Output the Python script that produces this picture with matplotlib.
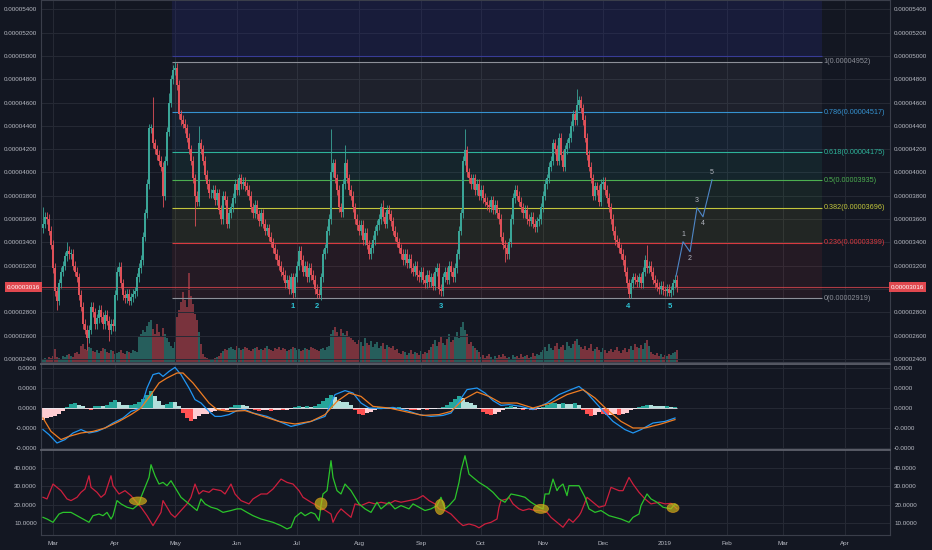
import numpy as np
import pandas as pd
import matplotlib
matplotlib.use("Agg")
import matplotlib.pyplot as plt
import matplotlib.dates as mdates
import matplotlib.transforms as mtransforms
from matplotlib.patches import Ellipse
from matplotlib.ticker import FuncFormatter

plt.rcParams['font.family'] = ['Liberation Sans', 'DejaVu Sans']

START = pd.Timestamp("2018-02-24")

# ---- price data, satoshi (1e-8), one value per day from START ----
first_open = 3520
closes = [
    3560, 3620, 3600, 3500, 3380,                    # Feb
    3180, 2980, 2900, 3050, 3150, 3200, 3280, 3330, 3300, 3300,
    3200, 3150, 3100, 2950, 2850, 2700, 2650, 2580, 2650,
    2850, 2800, 2700, 2750, 2820, 2760, 2700, 2780, 2730, 2650, 2700, 2680,
    2950, 3150, 3190,                                # Apr
    3050, 2950, 2920, 2960, 2900, 2930, 2960, 2980,
    3100, 3180, 3250, 3450, 3650, 3900, 4380,
    4380, 4250, 4200, 4150, 4100, 4050, 3800, 4100, 4350, 4600,
    4800, 4880, 4900,                                # May
    4750, 4500, 4450, 4420, 4380, 4300,
    4200, 4100, 3950, 3800, 3750, 4250,
    4200, 4100, 3980, 3900, 3820,
    3820, 3850, 3760, 3820, 3680, 3600, 3800, 3760, 3560, 3650,
    3700, 3780, 3900, 3850, 3950, 3900, 3920, 3880,  # Jun
    3850, 3800, 3700, 3650, 3720, 3640,
    3580, 3650, 3560, 3500, 3520,
    3450, 3400, 3350, 3300, 3250, 3200, 3150, 3120,
    3050, 3080, 3000, 3100, 2970,
    3100, 3200, 3330, 3250, 3150, 3200, 3100, 3180, 3120, 3080,  # Jul
    3000, 2960, 2950,
    3100, 3300, 3350, 3500, 3600,
    4000, 4080, 3950, 3850, 3700, 3660, 3900, 4080,
    3950, 3850, 3800, 3700, 3600, 3550,
    3500, 3550, 3420, 3480, 3380, 3300,              # Aug
    3350, 3420, 3500, 3550, 3600,
    3700, 3620, 3560, 3680, 3640,
    3580, 3500, 3450, 3400,
    3350, 3300, 3250, 3300, 3220, 3260, 3180, 3150, 3200, 3120,
    3100, 3150, 3080, 3050, 3120, 3060, 3100, 3030, 3150, 3180, 3000, 2980,  # Sep
    3100, 3150, 3080, 3200, 3150, 3100, 3180,
    3300, 3500, 3650, 4100, 4190, 4000,
    3950, 3900, 3950, 3850,
    3900, 3800, 3850, 3780, 3750,                    # Oct
    3720, 3700, 3760, 3680, 3720, 3650, 3600,
    3450, 3380, 3350, 3300, 3400,
    3600, 3780, 3850, 3800, 3750,
    3700, 3650, 3680, 3600, 3580, 3620, 3560, 3530, 3580, 3600,
    3700, 3800, 3900, 3950, 4050, 4100,              # Nov
    4250, 4200, 4100, 4300, 4150, 4050, 4200, 4250, 4300,
    4400, 4500, 4450, 4580, 4620, 4550, 4450,
    4300, 4150, 4050,
    3950, 3800, 3880, 3850, 3750, 3900, 3920, 3850, 3780, 3700,  # Dec
    3600, 3500, 3420, 3400,
    3350, 3300, 3250, 3150, 3050, 2960,
    3050, 3100, 3080, 3060, 3100, 3050,
    3150, 3250, 3180, 3200, 3150,
    3080, 3050, 3020, 3000, 3030, 2990,
    2980, 3000, 2970, 2990, 3050, 3080, 3016,        # Jan 2019
]
wick_highs = {0: 3700, 12: 3400, 55: 4650, 63: 4680, 66: 4952, 78: 4400,
              144: 4370, 151: 4240, 170: 3760, 211: 4370, 267: 4720, 302: 3380}
wick_lows = {7: 2820, 22: 2480, 33: 2550, 60: 3700, 76: 3540, 125: 2920,
             138: 2919, 199: 2940, 231: 3230, 293: 2925, 313: 2940}
volume = [
    3, 4, 3, 5, 4, 6, 13, 5, 4, 3, 6, 5, 7, 8, 6, 5, 9, 10, 8,
    16, 18, 13, 12, 15, 14, 11,
    10, 12, 9, 11, 14, 13, 10, 9, 12, 11, 8, 9, 10, 12, 9, 8, 11, 10, 9, 12, 11, 10,
    25, 28, 32, 30, 36, 40, 42, 33, 28, 38, 30, 26, 34, 28, 24, 20,
    16, 14, 20,
    45, 52, 60, 70, 62, 55, 89, 66, 58, 48, 42,
    30, 18, 8, 5, 4, 3, 2, 3, 4, 5, 6,
    9, 11, 13, 12, 14, 15, 13, 12, 16, 14, 12, 13, 15, 14, 12, 11, 13, 14, 15, 12,
    13, 12, 14, 16, 13, 12, 11, 14, 13, 15, 12, 14, 13, 11, 12, 13, 15, 14, 12, 13,
    11, 12, 14, 13, 12, 15, 14, 13, 12, 11, 13, 14, 12, 15, 16,
    28, 32, 35, 30, 26, 33, 29, 27, 31, 25, 24, 22, 20,
    18, 22, 20, 16, 24, 19, 17, 21, 15, 18, 20, 14, 16, 19, 13, 17, 15, 14, 16, 12, 13,
    9, 8, 11, 10, 7, 9, 12, 8, 10, 9, 7, 11, 8, 10, 9, 12,
    15, 18, 22, 16, 20, 25, 19, 17, 23, 28, 20, 22, 26, 30, 24, 35, 40, 32, 28,
    18, 20, 16, 14, 12, 10,
    5, 7, 4, 6, 8, 5, 3, 6, 4, 7, 5, 8, 6, 4, 5, 3, 7, 5, 6, 4, 8, 5, 6, 7, 4, 5, 9, 6, 8, 7,
    10, 12, 15, 11, 18, 14, 12, 16, 19, 13, 15, 17, 12, 20, 16, 14, 18, 21, 23, 17,
    15, 13, 16, 12, 14, 18, 11, 13, 15, 12, 10, 14, 12, 9, 11, 13, 10, 12, 15, 11,
    9, 12, 14, 10, 13, 16, 12, 18, 15, 14, 17, 13, 19, 22, 16,
    10, 8, 7, 9, 6, 8, 5, 7, 6, 8, 7, 9, 10, 12,
]
last_price = 3016

# fibonacci retracement (drawing tool anchors in days from START)
fib_ratios = ['0', '0.236', '0.382', '0.5', '0.618', '0.786', '1']
fib_prices = [2919, 3399, 3696, 3935, 4175, 4517, 4952]
fib_from_day, fib_to_day = 64.5, 389.5
upper_zone_price = 5000

wave_days = [125, 137, 199, 292.5, 313.5]
wave_names = ['1', '2', '3', '4', '5']
proj_days = [316.5, 320, 323.5, 327, 330, 334.5]
proj_prices = [3110, 3406, 3320, 3697, 3620, 3937]
proj_names = ['', '1', '2', '3', '4', '5']

# MACD (units 1e-6): (day, value)
macd_line = [(0, -1.08), (3, -1.33), (7, -1.75), (11, -1.58), (15, -1.25), (19, -1.08),
             (23, -1.25), (27, -1.17), (31, -1.0), (35, -0.75), (40, -0.5), (44, -0.17),
             (49, 0.0), (52, 1.0), (55, 1.67), (58, 1.75), (60, 1.58), (63, 1.83),
             (66, 2.03), (69, 1.67), (73, 1.0), (76, 0.42), (79, 0.25), (83, -0.17),
             (86, -0.42), (89, -0.42), (93, -0.33), (97, -0.13), (101, -0.08), (105, -0.25),
             (112, -0.42), (118, -0.67), (124, -0.92), (128, -0.83), (134, -0.67), (141, -0.42),
             (146, 0.67), (151, 0.87), (155, 0.75), (159, 0.25), (163, 0.0), (169, -0.03),
             (175, 0.03), (182, -0.13), (188, -0.33), (194, -0.42), (200, -0.37), (204, -0.25),
             (208, 0.33), (212, 0.92), (217, 1.0), (221, 0.75), (225, 0.37), (229, 0.13),
             (233, 0.17), (239, 0.08), (245, -0.08), (252, 0.25), (258, 0.67), (264, 0.92),
             (268, 1.08), (272, 0.75), (278, 0.08), (285, -0.67), (291, -1.08), (295, -1.25),
             (299, -1.08), (305, -0.75), (311, -0.67), (316, -0.5)]
signal_line = [(0, -0.5), (4, -1.17), (9, -1.58), (13, -1.42), (19, -1.25), (25, -1.17),
               (31, -1.0), (38, -0.67), (44, -0.33), (49, 0.0), (54, 0.67), (58, 1.25),
               (62, 1.5), (67, 1.75), (70, 1.75), (75, 1.25), (79, 0.75), (83, 0.25),
               (87, -0.08), (93, -0.17), (101, -0.13), (110, -0.42), (118, -0.67), (126, -0.8),
               (134, -0.67), (141, -0.33), (147, 0.33), (153, 0.75), (159, 0.58), (165, 0.08),
               (173, 0.0), (182, -0.2), (190, -0.37), (198, -0.33), (204, -0.17), (210, 0.42),
               (217, 0.8), (223, 0.58), (229, 0.25), (237, 0.25), (245, 0.0), (254, 0.25),
               (262, 0.67), (270, 0.92), (276, 0.5), (282, -0.08), (289, -0.67), (295, -1.0),
               (301, -1.0), (309, -0.8), (316, -0.58)]
# histogram, one value per 2 days
macd_hist = [
    -0.58, -0.5, -0.45, -0.42, -0.3, -0.15, 0.05, 0.2, 0.25, 0.15,
    0.08, -0.05, -0.08, 0.08, 0.12, 0.1, 0.15, 0.3, 0.42, 0.3,
    0.17, 0.15, 0.17, 0.2, 0.3, 0.45, 0.65, 0.83, 0.6, 0.35,
    0.15, 0.2, 0.3, 0.28, 0.1, -0.25, -0.5, -0.67, -0.55, -0.4,
    -0.3, -0.28, -0.2, -0.15, -0.12, -0.15, -0.1, 0.05, 0.15, 0.17,
    0.15, 0.1, -0.05, -0.1, -0.13, -0.12, -0.1, -0.13, -0.1, -0.08,
    -0.12, -0.08, -0.03, 0.03, 0.08, 0.05, 0.08, 0.05, 0.1, 0.2,
    0.35, 0.5, 0.67, 0.55, 0.35, 0.3, 0.28, 0.15, -0.1, -0.3,
    -0.33, -0.25, -0.2, -0.1, 0.03, 0.05, 0.02, -0.03, -0.05, 0.03,
    0.02, -0.05, -0.08, -0.1, -0.08, -0.06, -0.08, -0.05, -0.03, -0.02,
    0.03, 0.15, 0.3, 0.45, 0.6, 0.5, 0.3, 0.25, 0.15, -0.05,
    -0.2, -0.3, -0.33, -0.3, -0.2, -0.1, 0.03, 0.08, 0.05, -0.02,
    -0.08, -0.05, -0.08, -0.1, -0.06, 0.05, 0.15, 0.25, 0.27, 0.2,
    0.25, 0.22, 0.2, 0.25, 0.15, -0.1, -0.3, -0.42, -0.35, -0.2,
    -0.3, -0.35, -0.33, -0.3, -0.35, -0.3, -0.25, -0.1, -0.05, 0.05,
    0.12, 0.17, 0.15, 0.12, 0.1, 0.08, 0.08, 0.07, 0.07,
]

# DMI: (day, value)
plus_di = [(0, 13.2), (2, 12.3), (5, 10.5), (8, 15.0), (10, 15.9), (14, 15.9), (17, 14.1),
           (20, 12.3), (23, 10.5), (25, 14.1), (28, 15.0), (30, 14.1), (32, 15.9), (34, 12.3),
           (35, 14.1), (37, 22.3), (39, 20.5), (42, 18.7), (45, 17.8), (48, 20.5), (49, 24.1),
           (51, 29.5), (53, 34.9), (54, 41.8), (56, 35.8), (58, 31.3), (60, 32.2), (62, 30.4),
           (64, 33.1), (67, 27.7), (69, 24.1), (72, 21.4), (74, 19.6), (77, 16.9), (79, 23.2),
           (81, 20.5), (84, 18.7), (87, 17.8), (90, 15.9), (94, 16.9), (97, 17.8), (99, 17.8),
           (102, 15.9), (105, 14.1), (109, 12.3), (112, 11.4), (115, 10.5), (119, 8.7),
           (122, 6.9), (124, 7.8), (126, 13.2), (129, 15.9), (131, 14.1), (134, 15.9),
           (136, 15.0), (138, 11.4), (139, 19.6), (140, 25.9), (142, 27.7), (144, 44.0),
           (145, 34.9), (147, 27.7), (149, 25.9), (151, 31.3), (154, 27.7), (156, 24.1),
           (158, 20.5), (161, 17.8), (164, 15.9), (167, 21.4), (169, 17.8), (173, 21.4),
           (176, 17.8), (179, 19.6), (183, 17.8), (185, 20.5), (188, 18.7), (191, 16.9),
           (194, 17.8), (197, 19.6), (199, 24.1), (201, 17.8), (203, 19.6), (206, 23.2),
           (208, 32.2), (209, 38.6), (211, 46.7), (213, 36.7), (215, 34.9), (218, 32.2),
           (222, 29.5), (225, 26.8), (228, 23.2), (231, 21.4), (234, 25.9), (238, 25.0),
           (241, 24.1), (244, 21.4), (248, 18.7), (250, 17.8), (251, 25.9), (253, 25.9),
           (255, 34.0), (257, 27.7), (258, 29.5), (260, 31.3), (262, 25.0), (263, 30.4),
           (266, 30.4), (268, 30.4), (271, 24.1), (273, 17.8), (276, 15.9), (279, 16.9),
           (283, 14.1), (286, 13.2), (289, 12.3), (293, 10.5), (295, 13.2), (298, 15.0),
           (299, 19.6), (302, 25.9), (304, 23.2), (307, 21.4), (310, 18.7), (314, 17.8),
           (316, 20.5), (317, 19.6)]
minus_di = [(0, 24.1), (2, 23.2), (5, 31.3), (7, 29.5), (9, 27.7), (12, 23.2), (14, 22.3),
            (17, 24.1), (19, 26.8), (21, 28.6), (23, 35.8), (24, 29.5), (27, 26.8), (29, 24.1),
            (31, 25.9), (34, 35.8), (35, 30.4), (38, 25.9), (41, 27.7), (44, 25.0), (46, 22.3),
            (49, 18.7), (52, 14.1), (54, 10.5), (55, 8.7), (57, 12.3), (59, 15.9), (60, 22.3),
            (62, 18.7), (64, 15.0), (66, 13.2), (69, 16.9), (72, 20.5), (74, 24.1), (76, 31.3),
            (78, 25.9), (80, 27.7), (83, 26.8), (85, 28.6), (89, 27.7), (91, 25.9), (94, 31.3),
            (96, 25.9), (99, 22.3), (103, 20.5), (105, 23.2), (109, 25.9), (112, 25.9),
            (115, 28.6), (119, 34.0), (122, 32.2), (125, 31.3), (128, 27.7), (130, 24.1),
            (134, 21.4), (137, 19.6), (140, 17.8), (144, 15.0), (145, 10.5), (147, 15.0),
            (149, 17.8), (152, 15.0), (154, 13.2), (156, 20.5), (159, 19.6), (163, 21.4),
            (166, 20.5), (169, 21.4), (173, 20.5), (176, 22.3), (179, 21.4), (183, 22.3),
            (187, 23.2), (190, 25.0), (193, 22.3), (196, 20.5), (198, 17.8), (201, 16.9),
            (204, 15.0), (208, 10.5), (210, 8.7), (213, 9.6), (216, 8.7), (218, 7.5),
            (221, 9.6), (224, 10.5), (227, 12.3), (228, 18.7), (229, 22.3), (232, 23.2),
            (233, 24.1), (235, 20.5), (238, 17.8), (240, 16.9), (243, 17.8), (246, 16.9),
            (249, 16.9), (252, 15.9), (254, 13.2), (257, 10.5), (260, 7.8), (263, 12.3),
            (265, 10.5), (268, 14.1), (269, 15.9), (272, 24.1), (274, 22.3), (278, 18.7),
            (281, 19.6), (284, 29.5), (288, 27.7), (290, 27.7), (293, 34.9), (295, 31.3),
            (298, 26.8), (301, 23.2), (304, 20.5), (308, 21.4), (311, 20.5), (314, 20.8),
            (317, 17.8)]
cross_days = [47.5, 139, 198.5, 249, 315]
cross_vals = [22.1, 20.5, 18.8, 17.8, 18.3]

# ---- style ----
BG = '#131722'
GRID = '#262a35'
TXT = '#b8bbc4'
UP = '#3aa597'
DN = '#df5058'
fib_colors = ['#8d9099', '#d8393f', '#c2c63c', '#4caf50', '#2db39a', '#3592d0', '#8d9099']
cross_w_px = [17, 12, 10, 15, 12]
cross_h_px = [8, 12, 15, 9, 9]
WICK = 40

base = mdates.date2num(START)


def dx(days):
    return base + np.asarray(days, dtype=float)


def price_label(v, _):
    # the last-price box covers the 0.00003000 label, as on the chart
    if abs(v - 3000e-8) < 1e-10:
        return ''
    return f'{v:.8f}'


fig = plt.figure(figsize=(9.32, 5.5), dpi=100, facecolor=BG)
L, W = 41 / 932, 849 / 932
ax = fig.add_axes([L, 1 - 362 / 550, W, 362 / 550])
vol_ax = ax.twinx()
ax_m = fig.add_axes([L, 1 - 449 / 550, W, 85 / 550], sharex=ax)
ax_d = fig.add_axes([L, 1 - 535 / 550, W, 85 / 550], sharex=ax)

# ---- candles ----
c = np.array(closes, dtype=float)
o = np.r_[first_open, c[:-1]]
hi = np.maximum(o, c) + WICK
lo = np.minimum(o, c) - WICK
for d, v in wick_highs.items():
    hi[d] = v
for d, v in wick_lows.items():
    lo[d] = v
days = np.arange(len(c))
x = dx(days)
cols = np.where(c >= o, UP, DN)
ax.vlines(x, lo * 1e-8, hi * 1e-8, colors=cols, lw=0.6, zorder=4)
body = np.maximum(np.abs(c - o), 8)
ax.bar(x, body * 1e-8, bottom=np.minimum(o, c) * 1e-8, width=0.7,
       color=cols, lw=0, zorder=5)

# volume behind candles
vol_ax.bar(x, volume, width=0.7, color=cols, alpha=0.5, lw=0)
vol_ax.set_ylim(0, 362)
vol_ax.axis('off')
ax.set_zorder(vol_ax.get_zorder() + 1)
ax.patch.set_visible(False)

# ---- fibonacci ----
fx = dx([fib_from_day, fib_to_day])
fp = np.array(fib_prices) * 1e-8
for k in range(1, len(fp)):
    ax.fill_between(fx, fp[k - 1], fp[k], color=fib_colors[k], alpha=0.09, lw=0, zorder=1)
ax.fill_between(fx, upper_zone_price * 1e-8, 5480e-8, color='#262a7a', alpha=0.28, lw=0, zorder=1)
ax.hlines(upper_zone_price * 1e-8, fx[0], fx[1], color='#383c96', lw=0.8, zorder=2)
ax.hlines(fp, fx[0], fx[1], colors=fib_colors, lw=0.8, zorder=2)
for r, p, col in zip(fib_ratios, fib_prices, fib_colors):
    ax.text(fx[1] + 0.8, p * 1e-8, f'{r}({p * 1e-8:.8f})', color=col, fontsize=5.2,
            va='center', ha='left', zorder=6)

# last price line and boxes
ax.axhline(last_price * 1e-8, color='#e04850', lw=0.8, alpha=0.75, zorder=3)
tr = mtransforms.blended_transform_factory(ax.transAxes, ax.transData)
for xa, ha in [(-0.001, 'right'), (1.001, 'left')]:
    ax.text(xa, last_price * 1e-8, f'{last_price * 1e-8:.8f}', transform=tr, ha=ha, va='center',
            fontsize=4.5, color='white', clip_on=False, zorder=10,
            bbox=dict(boxstyle='square,pad=0.35', fc='#e0484f', ec='none'))

# wave counts
for d, n in zip(wave_days, wave_names):
    ax.text(dx(d), 2848e-8, n, color='#2ec4d6', fontsize=5.5, fontweight='bold',
            ha='center', va='center', zorder=6)
ax.plot(dx(proj_days), np.array(proj_prices) * 1e-8, color='#4f86c6', lw=0.8, zorder=6)
for k, (d, p, n) in enumerate(zip(proj_days, proj_prices, proj_names)):
    if n:
        off = 5 if k % 2 else -5
        ax.annotate(n, (dx(d), p * 1e-8), xytext=(0, off), textcoords='offset points',
                    ha='center', va='center', color='#b2b5be', fontsize=5, zorder=6)

ax.set_ylim(2374e-8, 5480e-8)
ax.set_yticks(np.arange(2400, 5401, 200) * 1e-8)
ax.yaxis.set_major_formatter(FuncFormatter(price_label))

# ---- MACD ----
hd = np.arange(len(macd_hist)) * 2
h = np.array(macd_hist)
prev = np.r_[h[0], h[:-1]]
hcols = np.where(h >= 0, np.where(h >= prev, '#26a69a', '#b2dfdb'),
                 np.where(h < prev, '#ff5252', '#ffcdd2'))
ax_m.bar(dx(hd), h * 1e-6, width=2, color=hcols, lw=0, zorder=2)
ax_m.hlines(0, dx(0), dx(317), color='#e8eaf0', lw=0.6, zorder=3)
md, mv = zip(*macd_line)
sd, sv = zip(*signal_line)
ax_m.plot(dx(md), np.array(mv) * 1e-6, color='#2196f3', lw=0.9, zorder=4)
ax_m.plot(dx(sd), np.array(sv) * 1e-6, color='#ef7d22', lw=0.9, zorder=4)
ax_m.set_ylim(-2.05e-6, 2.2e-6)
ax_m.set_yticks(np.array([-2, -1, 0, 1, 2]) * 1e-6)
ax_m.yaxis.set_major_formatter(FuncFormatter(lambda v, _: f'{v:.4f}'))

# ---- DMI ----
pd_, pv = zip(*plus_di)
nd, nv = zip(*minus_di)
ax_d.plot(dx(nd), nv, color='#cc1f3d', lw=0.9, zorder=3)
ax_d.plot(dx(pd_), pv, color='#2bc42b', lw=0.9, zorder=4)
for d, v, wpx, hpx in zip(cross_days, cross_vals, cross_w_px, cross_h_px):
    ax_d.add_patch(Ellipse((dx(d), v), wpx / 2, hpx / 1.843, facecolor='#c9b21a',
                           edgecolor='#e09a1a', alpha=0.7, lw=0.6, zorder=5))
ax_d.set_ylim(3.6, 49.8)
ax_d.set_yticks([10, 20, 30, 40])
ax_d.yaxis.set_major_formatter(FuncFormatter(lambda v, _: f'{v:.4f}'))

# ---- shared styling ----
loc = mdates.MonthLocator()
ax_d.xaxis.set_major_locator(loc)
ax_d.xaxis.set_major_formatter(FuncFormatter(
    lambda v, _: '2019' if mdates.num2date(v).month == 1 else mdates.num2date(v).strftime('%b')))
ax.set_xlim(dx(-1), dx(423.5))

for a in (ax, ax_m, ax_d):
    if a is not ax:
        a.set_facecolor(BG)
    a.grid(True, color=GRID, lw=0.7, zorder=0)
    a.set_axisbelow(True)
    a.tick_params(axis='both', length=0, labelsize=4.5, colors=TXT)
    a.tick_params(axis='y', labelleft=True, labelright=True, pad=3)
    for s in a.spines.values():
        s.set_color('#3a3e4a')
        s.set_linewidth(0.8)
ax.tick_params(axis='x', labelbottom=False)
ax_m.tick_params(axis='x', labelbottom=False)
ax_d.tick_params(axis='x', pad=4)
ax_m.spines['top'].set_color('#5d606b')
ax_m.spines['top'].set_linewidth(1.3)
ax_d.spines['top'].set_color('#5d606b')
ax_d.spines['top'].set_linewidth(1.3)

fig.savefig('out.png', dpi=100, facecolor=BG)
